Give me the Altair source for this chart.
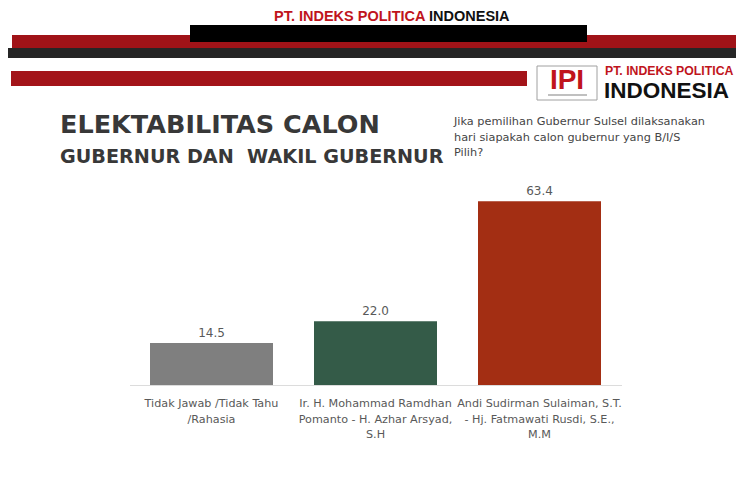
import altair as alt
import pandas as pd

# ---- chart data ----
categories = ["Tidak Jawab /Tidak Tahu\n/Rahasia",
              "Ir. H. Mohammad Ramdhan\nPomanto - H. Azhar Arsyad,\nS.H",
              "Andi Sudirman Sulaiman, S.T.\n- Hj. Fatmawati Rusdi, S.E.,\nM.M"]
values = [14.5, 22.0, 63.4]
colors = ["#7f7f7f", "#345b48", "#a32e13"]

title_lines = ["ELEKTABILITAS CALON", "GUBERNUR DAN\u00a0 WAKIL GUBERNUR"]
question_lines = ["Jika pemilihan Gubernur Sulsel dilaksanakan",
                  "hari siapakah calon gubernur yang B/I/S",
                  "Pilih?"]

df = pd.DataFrame({"cat": categories, "val": values, "color": colors})

# plot area geometry (page coordinates of plot origin)
OX, OY = 129.5, 182
W, H = 492, 203
TOTAL_W, TOTAL_H = 728, 474

def X(p):
    return p - OX

def Y(p):
    return p - OY

one = pd.DataFrame({"a": [0]})

def rect(x1, x2, y1, y2, fill, stroke=None):
    kw = dict(fill=fill)
    if stroke:
        kw.update(stroke=stroke, strokeWidth=1)
    return alt.Chart(one).mark_rect(**kw).encode(
        x=alt.value(X(x1)), x2=alt.value(X(x2)),
        y=alt.value(Y(y1)), y2=alt.value(Y(y2)))

def label(x, y, txt, size, color, weight="normal", font="DejaVu Sans", align="left"):
    return alt.Chart(one).mark_text(
        text=txt, fontSize=size, color=color, fontWeight=weight, font=font,
        align=align, baseline="middle").encode(x=alt.value(X(x)), y=alt.value(Y(y)))

xscale = alt.Scale(domain=categories, paddingInner=0.25, paddingOuter=0.125)
yscale = alt.Scale(domain=[0, 70])

bars = alt.Chart(df).mark_bar().encode(
    x=alt.X("cat:N", scale=xscale, sort=categories,
            axis=alt.Axis(labels=False, ticks=False, title=None,
                          domainColor="#dcdcdc", domainWidth=1)),
    y=alt.Y("val:Q", scale=yscale, axis=None),
    color=alt.Color("color:N", scale=None),
)

vals = alt.Chart(df).mark_text(baseline="middle", dy=-10, fontSize=12,
                               color="#595959", font="DejaVu Sans").encode(
    x=alt.X("cat:N", scale=xscale, sort=categories),
    y=alt.Y("val:Q", scale=yscale),
    text=alt.Text("val:Q", format=".1f"),
)

xlabels = alt.Chart(df).mark_text(baseline="middle", align="center", fontSize=11.2,
                                  lineBreak="\n", lineHeight=15.5,
                                  color="#595959", font="DejaVu Sans").encode(
    x=alt.X("cat:N", scale=xscale, sort=categories),
    y=alt.value(Y(404)),
    text="cat:N",
)

hdr_font = "Liberation Sans Narrow, Liberation Sans, Arial"
decor = [
    rect(12, 760, 35, 48, "#a01318"),
    rect(190, 587, 25, 42, "#000000"),
    rect(0, 760, 48, 58, "#262626"),
    rect(11, 527, 71, 86, "#a31419"),
    rect(537, 597, 66, 100, "#ffffff", stroke="#a0a0a0"),
    label(567, 81, "IPI", 28, "#c0141c", "bold", hdr_font, "center"),
    rect(548, 587, 94, 96, "#c0c0c0"),
    label(605, 71, "PT. INDEKS POLITICA", 12.3, "#c0141c", "bold", hdr_font),
    label(604, 91, "INDONESIA", 22.5, "#111111", "bold", "Liberation Sans, Arial"),
    label(274, 17, "PT. INDEKS POLITICA", 14.5, "#c0141c", "bold", hdr_font),
    label(429, 17, "INDONESIA", 14.5, "#111111", "bold", hdr_font),
    label(60, 125, title_lines[0], 25.5, "#383838", "bold"),
    label(60, 157, title_lines[1], 19.2, "#383838", "bold"),
]
for i, q in enumerate(question_lines):
    decor.append(label(454, 122 + i * 15.5, q, 11.3, "#454545"))

chart = alt.layer(bars, vals, xlabels, *decor).properties(
    width=W, height=H,
    background="#ffffff",
    autosize=alt.AutoSizeParams(type="none"),
    padding={"left": OX - 8, "top": OY - 8,
             "right": TOTAL_W - (OX - 8) - W, "bottom": TOTAL_H - (OY - 8) - H},
).configure_view(strokeOpacity=0, strokeWidth=0)

chart.save("out.html", embed_options={"renderer": "svg", "actions": False})
